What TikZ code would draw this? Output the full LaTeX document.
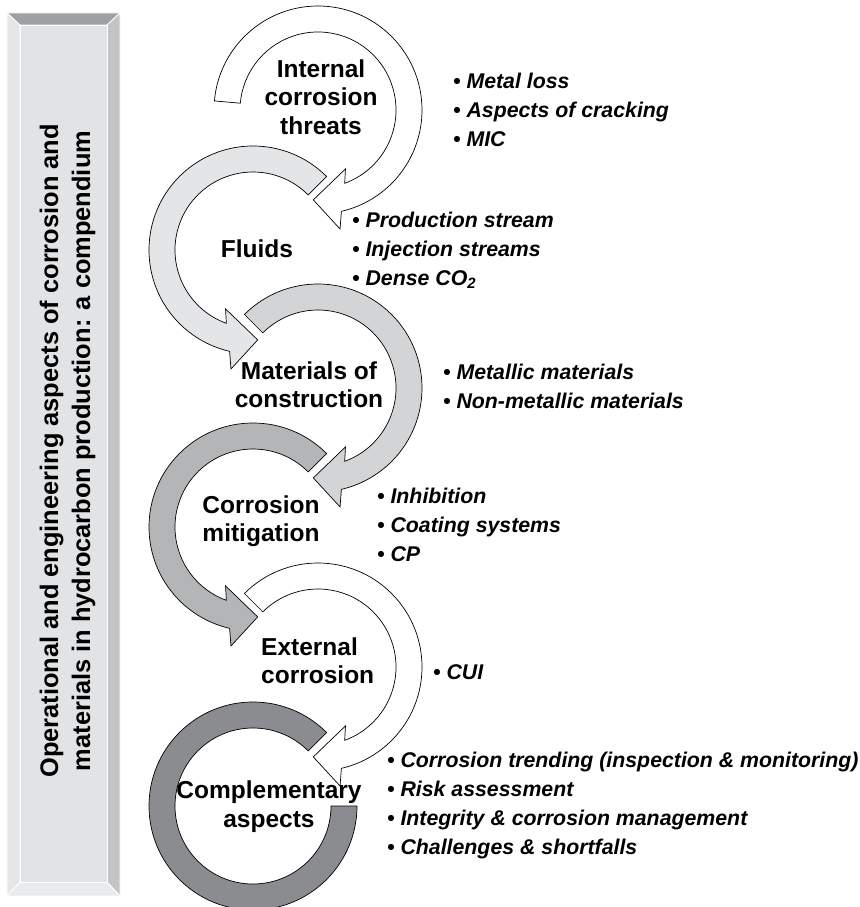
\documentclass[tikz,border=0pt]{standalone}
\usepackage{fontspec}
\setmainfont{Liberation Sans}
\usetikzlibrary{calc}

\definecolor{faceg}{HTML}{E2E3E5}
\definecolor{topg}{HTML}{9FA0A2}
\definecolor{leftg}{HTML}{E5E6E7}
\definecolor{rightg}{HTML}{C3C4C6}
\definecolor{bottomg}{HTML}{E9EAEB}
\definecolor{fluidg}{HTML}{E4E5E7}
\definecolor{matg}{HTML}{D3D4D6}
\definecolor{mitg}{HTML}{B4B5B7}
\definecolor{compg}{HTML}{8B8C8F}

\tikzset{
	ring/.style = {draw = black, line width = 0.7pt},
	bevel/.style = {draw = white, line width = 0.8pt},
	title/.style = {font = \bfseries\fontsize{24.5}{28.5}\selectfont, align = center, inner sep = 0pt},
	items/.style = {font = \bfseries\itshape\fontsize{21.3}{29}\selectfont, align = left, inner sep = 0pt, anchor = west},
}

% clockwise arc arrow around the origin, tail at angle #1
\newcommand{\cwarrow}[1]{(#1:104) arc[start angle = #1, end angle = -77, radius = 104]
	-- (-79.5:121) -- (-93:90) -- (-65:65) -- (-70:78)
	arc[start angle = -70, end angle = #1, radius = 78] -- cycle}

\begin{document}
\begin{tikzpicture}[x = 1pt, y = -1pt]
	\useasboundingbox (0,0) rectangle (859,907);
	
	% bevelled side bar
	\fill[topg, bevel] (7,13) -- (120,13) -- (107,25) -- (20,25) -- cycle;
	\fill[leftg, bevel] (7,13) -- (20,25) -- (20,882) -- (7,896) -- cycle;
	\fill[rightg, bevel] (120,13) -- (120,896) -- (107,882) -- (107,25) -- cycle;
	\fill[bottomg, bevel] (7,896) -- (120,896) -- (107,882) -- (20,882) -- cycle;
	\filldraw[faceg, bevel] (20,25) rectangle (107,882);
	\node[rotate = 90, align = center, inner sep = 0pt, font = \bfseries\fontsize{25.4}{32}\selectfont] (bar) at (67.5,451)
		{Operational and engineering aspects of corrosion and\\materials in hydrocarbon production: a compendium};
	
	% the chain of arc arrows
	\begin{scope}[shift = {(318,110)}, yscale = -1]
		\filldraw[ring, fill = white] \cwarrow{175};
	\end{scope}
	\begin{scope}[shift = {(253,250)}, xscale = -1, yscale = -1]
		\filldraw[ring, fill = fluidg] \cwarrow{135};
	\end{scope}
	\begin{scope}[shift = {(318,388)}, yscale = -1]
		\filldraw[ring, fill = matg] \cwarrow{135};
	\end{scope}
	\begin{scope}[shift = {(253,527)}, xscale = -1, yscale = -1]
		\filldraw[ring, fill = mitg] \cwarrow{135};
	\end{scope}
	\begin{scope}[shift = {(318,667)}, yscale = -1]
		\filldraw[ring, fill = white] \cwarrow{135};
	\end{scope}
	\begin{scope}[shift = {(253,806)}, yscale = -1]
		\filldraw[ring, fill = compg] (45:104) arc[start angle = 45, end angle = 360, radius = 104]
			-- (0:78) arc[start angle = 360, end angle = 45, radius = 78] -- cycle;
	\end{scope}
	
	% stage titles
	\node[title] (internal) at (321,97) {Internal\\corrosion\\threats};
	\node[title] (fluids) at (257,249) {Fluids};
	\node[title] (materials) at (309,384.5) {Materials of\\construction};
	\node[title] (mitigation) at (261,521) {Corrosion\\mitigation};
	\node[title, align = left, anchor = west] (external) at (261,660.5) {External\\corrosion};
	\node[title] (complementary) at (269,806.5) {Complementary\\aspects};
	
	% topics of each stage
	\node[items] (internal-list) at (453,110) {• Metal loss\\• Aspects of cracking\\• MIC};
	\node[items] (fluids-list) at (352,250.5) {• Production stream\\• Injection streams\\• Dense CO\textsubscript{2}};
	\node[items] (materials-list) at (443,386) {• Metallic materials\\• Non-metallic materials};
	\node[items] (mitigation-list) at (377,524.5) {• Inhibition\\• Coating systems\\• CP};
	\node[items] (external-list) at (433,672.5) {• CUI};
	\node[items] (complementary-list) at (387,805.5) {• Corrosion trending (inspection \& monitoring)\\• Risk assessment\\• Integrity \& corrosion management\\• Challenges \& shortfalls};
\end{tikzpicture}
\end{document}
